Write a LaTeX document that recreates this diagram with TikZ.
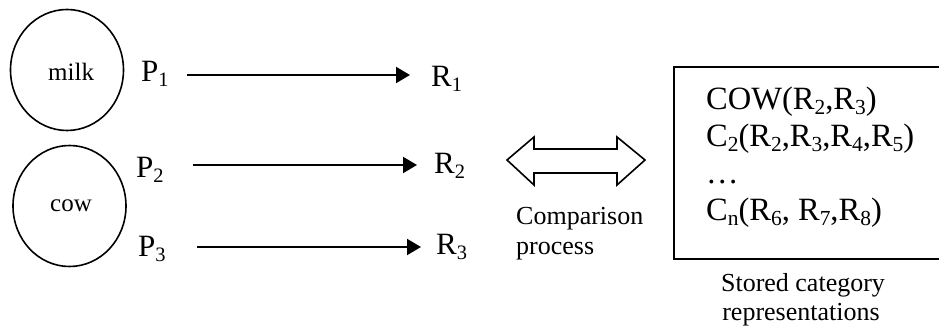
\documentclass[tikz,border=0pt]{standalone}
\usepackage{fontspec}
\setmainfont{Liberation Serif}
\usetikzlibrary{arrows.meta,shapes.geometric}
\newcommand{\lo}[1]{\raisebox{-0.14em}{\scalebox{0.66}{#1}}}
\tikzset{
  big/.style={font=\fontsize{31}{36}\selectfont, inner sep=0pt, anchor=base west},
  boxtext/.style={font=\fontsize{32.5}{38}\selectfont, inner sep=0pt, anchor=base west},
  mid/.style={font=\fontsize{26}{30}\selectfont, inner sep=0pt},
  circ/.style={draw, line width=1.6pt, ellipse, minimum width=113pt, minimum height=121pt, inner sep=0pt},
  circlabel/.style={font=\fontsize{25}{30}\selectfont, inner sep=0pt, anchor=base west},
  conn/.style={line width=2pt, -{Triangle[length=14pt,width=16pt]}},
}
\begin{document}
\begin{tikzpicture}[x=1pt,y=-1pt]
\useasboundingbox (0,0) rectangle (939,328);
\clip (0,0) rectangle (939,328);
\fill[white] (0,0) rectangle (939,328);
% circles
\node[circ] (milkc) at (67,70) {};
\node[circ] (cowc) at (69.5,206) {};
\node[circlabel] (milk) at (48,81) {milk};
\node[circlabel] (cow) at (50,212) {cow};
% P and R labels
\node[big] (P1) at (141,82) {P\lo{1}};
\node[big] (P2) at (136,178) {P\lo{2}};
\node[big] (P3) at (138,257) {P\lo{3}};
\node[big] (R1) at (431,87) {R\lo{1}};
\node[big] (R2) at (434,174) {R\lo{2}};
\node[big] (R3) at (436,255) {R\lo{3}};
% arrow ends
\coordinate (a1s) at (187,75);
\coordinate (a1e) at (410,75);
\coordinate (a2s) at (193,165);
\coordinate (a2e) at (417,165);
\coordinate (a3s) at (197,247);
\coordinate (a3e) at (421,247);
\draw[conn] (a1s) -- (a1e);
\draw[conn] (a2s) -- (a2e);
\draw[conn] (a3s) -- (a3e);
% double arrow
\draw[line width=1.6pt, line join=miter] (507,160) -- (534,137) -- (534,149) -- (617,149) -- (617,137) -- (645,160) -- (617,185) -- (617,173) -- (534,173) -- (534,185) -- cycle;
\node[mid, anchor=base west] (cmp1) at (516,225) {Comparison};
\node[mid, anchor=base west] (cmp2) at (516,255) {process};
% box
\draw[line width=1.8pt] (674,67) rectangle (980,259);
\node[boxtext] (c1) at (706,110) {COW(R\lo{2},R\lo{3})};
\node[boxtext] (c2) at (706,147) {C\lo{2}(R\lo{2},R\lo{3},R\lo{4},R\lo{5})};
\node[boxtext] (c3) at (706,184) {…};
\node[boxtext] (c4) at (706,221) {C\lo{n}(R\lo{6}, R\lo{7},R\lo{8})};
\node[mid, anchor=base] (s1) at (803,292) {Stored category};
\node[mid, anchor=base] (s2) at (801,321) {representations};
\end{tikzpicture}
\end{document}
